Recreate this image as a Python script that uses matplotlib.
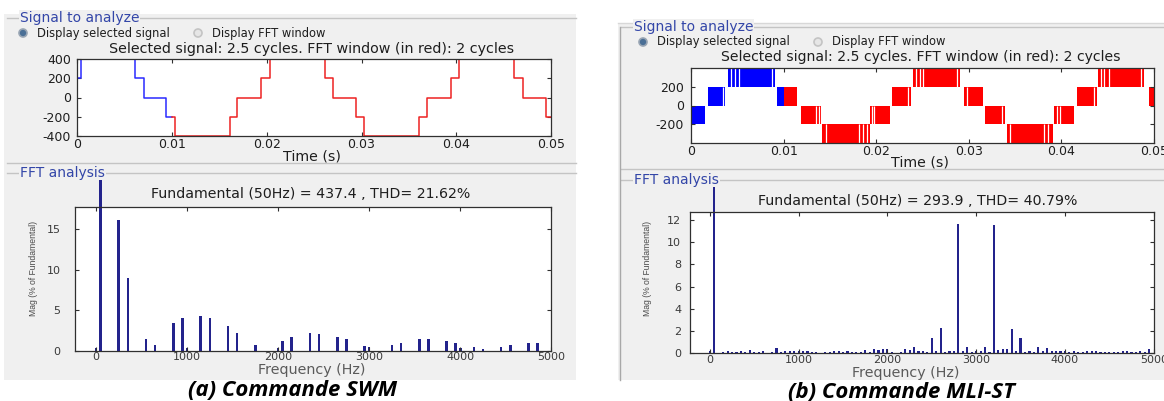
import numpy as np
import matplotlib
matplotlib.use("Agg")
import matplotlib.pyplot as plt
from matplotlib.patches import Rectangle, Circle
from matplotlib.transforms import Bbox, TransformedBbox

plt.rcParams["axes.unicode_minus"] = False

W, H = 1164, 401

# (a) Commande SWM - staircase output, step times (s) and levels (V)
swm_t = [0.0, 0.0004, 0.0061, 0.0070, 0.0094, 0.0103, 0.0161, 0.0169, 0.0194, 0.0203,
         0.0261, 0.0270, 0.0294, 0.0303, 0.0361, 0.0369, 0.0394, 0.0403, 0.0461, 0.0470,
         0.0495, 0.0500]
swm_v = [200, 400, 200, 0, -200, -400, -200, 0, 200, 400,
         200, 0, -200, -400, -200, 0, 200, 400, 200, 0,
         -200, -200]

swm_freq = [0, 50, 250, 350, 550, 650, 850, 950, 1000, 1150, 1250, 1450, 1550, 1750,
            2000, 2050, 2150, 2350, 2450, 2650, 2750, 2950, 3000, 3250, 3350, 3550,
            3650, 3850, 3950, 4000, 4150, 4250, 4450, 4550, 4750, 4850]
swm_mag = [0.3, 100, 16.2, 9.0, 1.45, 0.75, 3.45, 4.05, 0.3, 4.3, 4.05, 3.0, 2.2, 0.7,
           0.3, 1.25, 1.75, 2.15, 2.05, 1.75, 1.4, 0.55, 0.4, 0.75, 1.0, 1.4,
           1.4, 1.15, 1.0, 0.3, 0.5, 0.15, 0.5, 0.7, 0.95, 1.0]

# (b) Commande MLI-ST - PWM switching bands (start, end, low level, high level)
st_t0 = [0.0000, 0.0018, 0.0040, 0.0093, 0.0100, 0.0119, 0.0141, 0.0193, 0.0217,
         0.0240, 0.0295, 0.0317, 0.0341, 0.0392, 0.0417, 0.0439, 0.0495]
st_t1 = [0.0015, 0.0037, 0.0091, 0.0100, 0.0115, 0.0140, 0.0193, 0.0215, 0.0238,
         0.0291, 0.0315, 0.0339, 0.0391, 0.0414, 0.0438, 0.0489, 0.0500]
st_lo = [-200, 0, 200, 0, 0, -200, -400, -200, 0, 200, 0, -200, -400, -200, 0, 200, 0]
st_hi = [0, 200, 400, 200, 200, 0, -200, 0, 200, 400, 200, 0, -200, 0, 200, 400, 200]
# wider pulses showing as light gaps inside the bands
st_gap_t = [0.0035, 0.0043, 0.0048, 0.0052, 0.0088, 0.0135, 0.0138, 0.0146, 0.0181,
            0.0186, 0.0190, 0.0196, 0.0198, 0.0234, 0.0243, 0.0247, 0.0251, 0.0287,
            0.0298, 0.0336, 0.0345, 0.0381, 0.0386, 0.0395, 0.0398, 0.0435, 0.0443,
            0.0446, 0.0451, 0.0486]
st_gap_lo = [0, 200, 200, 200, 200, -200, -200, -400, -400, -400, -400, -200, -200, 0,
             200, 200, 200, 200, 0, -200, -400, -400, -400, -200, -200, 0, 200,
             200, 200, 200]
st_gap_hi = [200, 400, 400, 400, 400, 0, 0, -200, -200, -200, -200, 0, 0, 200,
             400, 400, 400, 400, 200, 0, -200, -200, -200, 0, 0, 200, 400,
             400, 400, 400]

st_freq = [0, 50, 100, 150, 200, 250, 300, 350, 400, 450, 500, 550, 600, 650, 700, 750,
           800, 850, 900, 950, 1000, 1050, 1100, 1150, 1200, 1250, 1300, 1350, 1400,
           1450, 1500, 1550, 1600, 1650, 1700, 1750, 1800, 1850, 1900, 1950, 2000,
           2050, 2100, 2150, 2200, 2250, 2300, 2350, 2400, 2450, 2500, 2550, 2600,
           2650, 2700, 2750, 2800, 2850, 2900, 2950, 3000, 3050, 3100, 3150, 3200,
           3250, 3300, 3350, 3400, 3450, 3500, 3550, 3600, 3650, 3700, 3750, 3800,
           3850, 3900, 3950, 4000, 4050, 4100, 4150, 4200, 4250, 4300, 4350, 4400,
           4450, 4500, 4550, 4600, 4650, 4700, 4750, 4800, 4850, 4900, 4950]
st_mag = [0.2, 100, 0.05, 0.15, 0.25, 0.1, 0.1, 0.2, 0.1, 0.3, 0.1, 0.1, 0.2, 0.05, 0.1, 0.45,
          0.1, 0.2, 0.2, 0.2, 0.25, 0.25, 0.25, 0.1, 0.1, 0.05, 0.15, 0.15, 0.2,
          0.2, 0.15, 0.2, 0.15, 0.15, 0.1, 0.3, 0.1, 0.35, 0.3, 0.35, 0.4,
          0.1, 0.05, 0.1, 0.35, 0.3, 0.6, 0.25, 0.2, 0.15, 1.4, 0.2, 2.3,
          0.15, 0.2, 0.25, 11.6, 0.25, 0.55, 0.15, 0.2, 0.2, 0.55, 0.15, 11.55,
          0.3, 0.35, 0.4, 2.2, 0.25, 1.4, 0.15, 0.2, 0.1, 0.6, 0.2, 0.45,
          0.25, 0.2, 0.2, 0.2, 0.15, 0.2, 0.15, 0.15, 0.25, 0.2, 0.2, 0.15,
          0.1, 0.15, 0.15, 0.15, 0.2, 0.2, 0.1, 0.15, 0.2, 0.15, 0.4]

PANEL = "#f0f0f0"
FRAME = "#c4c4c4"
TITLE_BLUE = "#3346a8"
BAR = "#23238c"
TXT = "#1e1e1e"


def px_axes(fig, x0, y0, x1, y1):
    return fig.add_axes([x0 / W, 1 - y1 / H, (x1 - x0) / W, (y1 - y0) / H])


def style_axes(ax, tick_color, ypad, xpad=1.5, size=9):
    ax.set_facecolor("white")
    for s in ax.spines.values():
        s.set_color("#303030")
        s.set_linewidth(0.9)
    ax.tick_params(direction="in", top=True, right=True, length=3, width=0.8,
                   labelsize=size, colors="#303030", labelcolor=tick_color)
    ax.tick_params(axis="y", pad=ypad)
    ax.tick_params(axis="x", pad=xpad)
    ax.set_zorder(2)


def draw_panel(bg, x0, y0, x1, y1, sig_y, sep_y, fft_y, radio_y, radio_x, vline):
    bg.add_patch(Rectangle((x0, y0), x1 - x0, y1 - y0, fc=PANEL, ec="none", zorder=0))
    for yy in (sig_y, sep_y, fft_y):
        bg.plot([x0 + 3, x1], [yy, yy], color=FRAME, lw=1, zorder=1)
    if vline:
        bg.plot([x0 + 2, x0 + 2], [sig_y, y1], color="#a8a8a8", lw=1, zorder=1)
    for yy, s in ((sig_y, "Signal to analyze"), (fft_y, "FFT analysis")):
        bg.text(x0 + 16, yy, s, fontsize=10, color=TITLE_BLUE,
                ha="left", va="center", zorder=3,
                bbox=dict(fc=PANEL, ec="none", pad=0.5))
    # radio buttons
    bg.add_patch(Circle((radio_x, radio_y), 4, fc="#4a6f96", ec="#9aa6b4", lw=1.2, zorder=3))
    bg.text(radio_x + 14, radio_y, "Display selected signal", fontsize=8.3, color=TXT,
            ha="left", va="center", zorder=3)
    bg.add_patch(Circle((radio_x + 175, radio_y), 4, fc="#e6e6e6", ec="#c4c4c4", lw=1.2, zorder=3))
    bg.text(radio_x + 189, radio_y, "Display FFT window", fontsize=8.3, color=TXT,
            ha="left", va="center", zorder=3)


fig = plt.figure(figsize=(W / 100, H / 100), dpi=100)
fig.patch.set_facecolor("white")
bg = fig.add_axes([0, 0, 1, 1])
bg.set_xlim(0, W)
bg.set_ylim(H, 0)
bg.axis("off")
bg.set_zorder(0)

draw_panel(bg, 4, 14, 576, 380, 18, 163, 173, 33, 23, False)
draw_panel(bg, 618, 23, 1164, 380, 27, 169, 180, 42, 643, True)
bg.plot([618, 1164], [23, 23], color="#d8d8d8", lw=1, zorder=1)

# ---------- (a) signal ----------
ax1 = px_axes(fig, 77.3, 59, 551, 136)
win = 0.01
i = int(np.searchsorted(swm_t, win))
ax1.step(swm_t[:i] + [win], swm_v[:i] + [swm_v[i - 1]], where="post", color="#2a2aff", lw=1.1)
ax1.step([win] + swm_t[i:], [swm_v[i - 1]] + swm_v[i:], where="post", color="#ee2222", lw=1.1)
ax1.set_xlim(0, 0.05)
ax1.set_ylim(-400, 400)
ax1.set_xticks([0, 0.01, 0.02, 0.03, 0.04, 0.05])
ax1.set_xticklabels(["0", "0.01", "0.02", "0.03", "0.04", "0.05"])
ax1.set_yticks([-400, -200, 0, 200, 400])
style_axes(ax1, TXT, ypad=4.5)

# ---------- (a) FFT ----------
ax2 = px_axes(fig, 75, 206.7, 551.3, 350.7)
bars = ax2.bar(swm_freq, swm_mag, width=28, color=BAR, lw=0)
clip = TransformedBbox(Bbox([[0, 0], [1, 1.185]]), ax2.transAxes)
for b in bars:
    b.set_clip_box(clip)
ax2.set_xlim(-230, 5000)
ax2.set_ylim(0, 17.8)
ax2.set_xticks([0, 1000, 2000, 3000, 4000, 5000])
ax2.set_yticks([0, 5, 10, 15])
style_axes(ax2, "#3a3a3a", ypad=10.5, xpad=1.0, size=8)

# ---------- (b) signal ----------
ax3 = px_axes(fig, 691, 68, 1154, 143)
st_col = ["#0000ff" if t < win else "#ff0000" for t in st_t0]
ax3.bar(st_t0, np.subtract(st_hi, st_lo), bottom=st_lo, width=np.subtract(st_t1, st_t0),
        align="edge", color=st_col, lw=0)
ax3.vlines(st_gap_t, st_gap_lo, st_gap_hi, color="white", lw=0.9)
ax3.set_xlim(0, 0.05)
ax3.set_ylim(-400, 400)
ax3.set_xticks([0, 0.01, 0.02, 0.03, 0.04, 0.05])
ax3.set_xticklabels(["0", "0.01", "0.02", "0.03", "0.04", "0.05"])
ax3.set_yticks([-200, 0, 200])
style_axes(ax3, TXT, ypad=5)

# ---------- (b) FFT ----------
ax4 = px_axes(fig, 689.5, 211.7, 1153.7, 353.3)
bars = ax4.bar(st_freq, st_mag, width=24, color=BAR, lw=0)
clip = TransformedBbox(Bbox([[0, 0], [1, 1.177]]), ax4.transAxes)
for b in bars:
    b.set_clip_box(clip)
ax4.set_xlim(-230, 5000)
ax4.set_ylim(0, 12.75)
ax4.set_xticks([0, 1000, 2000, 3000, 4000, 5000])
ax4.set_yticks([0, 2, 4, 6, 8, 10, 12])
style_axes(ax4, "#3a3a3a", ypad=6, xpad=1.0, size=8)

# ---------- texts ----------
bg.text(312, 49, "Selected signal: 2.5 cycles. FFT window (in red): 2 cycles",
        fontsize=10.3, color=TXT, ha="center", va="center")
bg.text(921, 57, "Selected signal: 2.5 cycles. FFT window (in red): 2 cycles",
        fontsize=10.1, color=TXT, ha="center", va="center")
bg.text(312, 157, "Time (s)", fontsize=10.2, color=TXT, ha="center", va="center")
bg.text(920, 162, "Time (s)", fontsize=10.2, color=TXT, ha="center", va="center")
bg.text(311, 194, "Fundamental (50Hz) = 437.4 , THD= 21.62%",
        fontsize=10.2, color=TXT, ha="center", va="center")
bg.text(918, 201, "Fundamental (50Hz) = 293.9 , THD= 40.79%",
        fontsize=10.2, color=TXT, ha="center", va="center")
bg.text(312, 370, "Frequency (Hz)", fontsize=10.3, color="#5a5a5a", ha="center", va="center")
bg.text(906, 373, "Frequency (Hz)", fontsize=10.3, color="#5a5a5a", ha="center", va="center")
for xx, yy in ((34, 268.5), (647, 268.5)):
    bg.text(xx, yy, "Mag (% of Fundamental)", fontsize=6.2, color="#4a4a4a",
            family=["Liberation Sans", "DejaVu Sans"], rotation=90,
            ha="center", va="center")

cap = dict(fontsize=15.9, fontweight="bold", fontstyle="italic", color="black",
           family=["Open Sans", "DejaVu Sans"], ha="center", va="center")
bg.text(293, 391, "(a) Commande SWM", **cap)
bg.text(901, 392, "(b) Commande MLI-ST", **cap)

fig.savefig("out.png", dpi=100, facecolor="white")
